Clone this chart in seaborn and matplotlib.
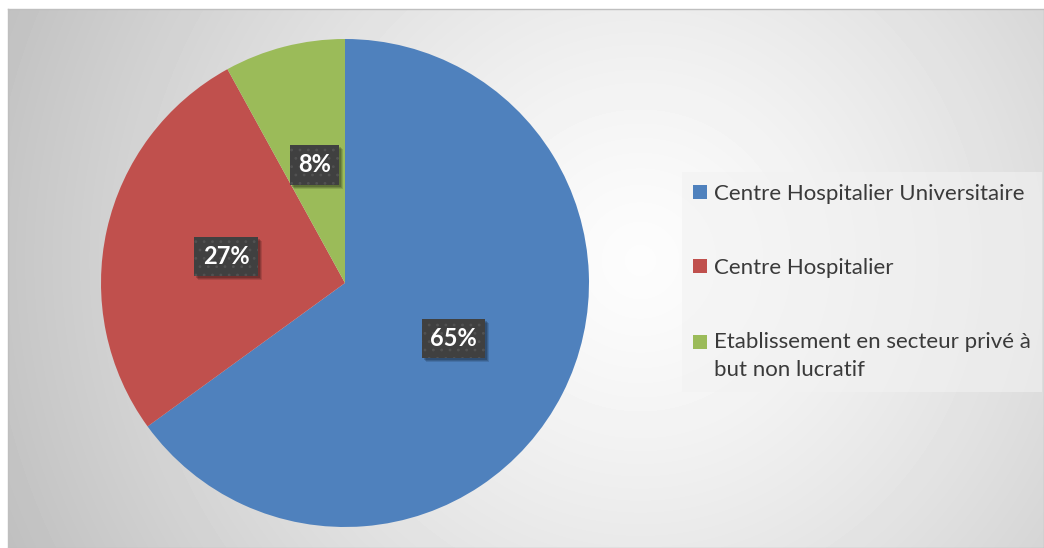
import numpy as np
import matplotlib.pyplot as plt
import matplotlib.transforms as mtrans
from matplotlib.patches import Rectangle
from matplotlib.legend_handler import HandlerPatch
import seaborn as sns

# data
categories = ['Centre Hospitalier Universitaire', 'Centre Hospitalier',
              'Etablissement en secteur privé à\nbut non lucratif']
shares = [65, 27, 8]
colors = ['#4F81BD', '#C0504D', '#9BBB59']

sns.set_theme(style='white')
plt.rcParams['font.family'] = ['Lato', 'DejaVu Sans']
plt.rcParams['hatch.color'] = '#525252'
plt.rcParams['hatch.linewidth'] = 0.8

W, H = 1044, 548
fig = plt.figure(figsize=(W / 100, H / 100), dpi=100)
fig.patch.set_facecolor('white')

# background with radial gradient (chart area)
bg = fig.add_axes([8 / W, 0, 1 - 8 / W, 1 - 9 / H])
yy, xx = np.mgrid[0:539, 0:1036]
d = np.hypot(xx - 632, yy - 251) / 650
grad = 0.99 - 0.22 * d ** 1.3
bg.imshow(grad, cmap='gray', vmin=0, vmax=1, aspect='auto', interpolation='bilinear')
bg.set_xticks([])
bg.set_yticks([])
for s in bg.spines.values():
    s.set_color('#bfbfbf')
    s.set_linewidth(1)

# pie
cx, cy, r = 345, H - 283, 244
ax = fig.add_axes([(cx - r) / W, (cy - r) / H, 2 * r / W, 2 * r / H])
ax.set_facecolor('none')
wedges, texts, autotexts = ax.pie(
    shares, colors=colors, startangle=90, counterclock=False,
    autopct='%.0f%%', pctdistance=0.5,
    wedgeprops=dict(linewidth=0),
    textprops=dict(color='white', fontsize=17, fontweight='bold'))
ax.set_xlim(-1, 1)
ax.set_ylim(-1, 1)
ax.axis('off')

# data labels: dark box
for t in autotexts:
    t.set_zorder(3)
    t.set_bbox(dict(boxstyle='square,pad=0.35', facecolor='#404040',
                    edgecolor='#525252', linewidth=0, hatch='..'))


# legend: square markers, aligned with the first line of the label
class FirstLineHandler(HandlerPatch):
    def create_artists(self, legend, orig_handle, xdescent, ydescent,
                       width, height, fontsize, trans):
        lab = orig_handle.get_label()
        nlines = lab.count('\n') + 1
        shift = (nlines - 1) * 0.5 * 1.3 * fontsize
        p = Rectangle((-xdescent, -ydescent + shift), width, height,
                      facecolor=orig_handle.get_facecolor(), linewidth=0,
                      transform=trans)
        return [p]


for w, lab in zip(wedges, categories):
    w.set_label(lab)

leg = fig.legend(wedges, categories, loc='center left',
                 bbox_to_anchor=(682 / W, 1 - 282 / H), borderaxespad=0,
                 fontsize=16, frameon=True, fancybox=False,
                 handlelength=0.62, handleheight=0.62, handletextpad=0.3,
                 labelspacing=2.45, borderpad=0.5,
                 handler_map={w: FirstLineHandler() for w in wedges})
leg.get_frame().set_facecolor('#f2f2f2')
leg.get_frame().set_alpha(0.6)
leg.get_frame().set_linewidth(0)
for t in leg.get_texts():
    t.set_color('#3a3a3a')
    t.set_linespacing(1.5)

# soft shadow behind the label boxes, from their drawn extents
fig.canvas.draw()
for t in autotexts:
    bb = t.get_bbox_patch().get_window_extent()
    for off, a in [(4, 0.12), (3, 0.15), (2, 0.18)]:
        ax.add_patch(Rectangle((bb.x0 + off, bb.y0 - off), bb.width, bb.height,
                               transform=mtrans.IdentityTransform(),
                               facecolor='black', alpha=a, linewidth=0, zorder=2))

fig.savefig('out.png', dpi=100)
